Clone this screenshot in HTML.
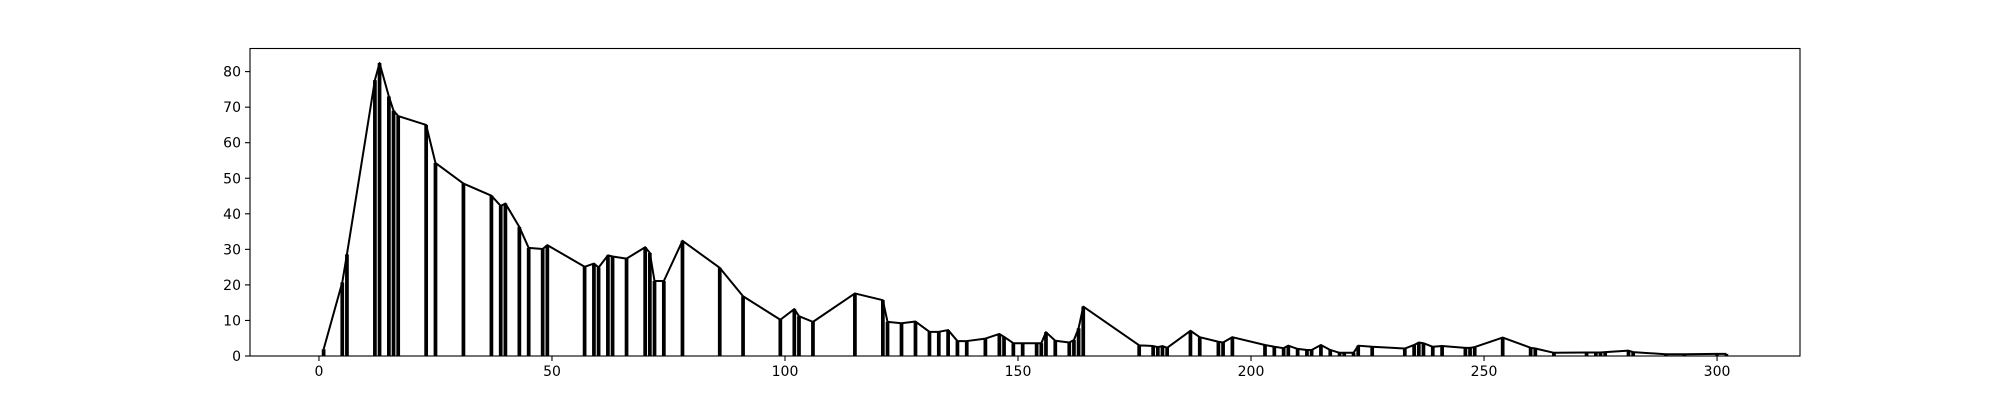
<!DOCTYPE html>
<html><head><meta charset="utf-8"><style>
html,body{margin:0;padding:0;background:#fff;}
svg{display:block;font-family:"DejaVu Sans","Liberation Sans",sans-serif;}
</style></head><body>
<svg id="chart" width="2000" height="400" viewBox="0 0 2000 400" xmlns="http://www.w3.org/2000/svg">
<rect width="2000" height="400" fill="#fff"/>
<g id="bars"></g>
<g id="line"></g>
<g id="xaxis"></g>
<g id="yaxis"></g>
<rect x="250" y="48.5" width="1550" height="307.5" fill="none" stroke="#000" stroke-width="1.1"/>
</svg>
<script>
const xVals = [1,5,6,12,13,15,16,17,23,25,31,37,39,40,43,45,48,49,57,59,60,62,63,66,70,71,72,74,78,86,91,99,102,103,106,115,121,122,125,128,131,133,135,137,139,143,146,147,149,151,154,155,156,158,161,162,163,164,176,179,180,181,182,187,189,193,194,196,203,205,207,208,210,212,213,215,217,219,220,222,223,226,233,235,236,237,239,241,246,247,248,254,260,261,265,272,274,275,276,281,282,289,293,300,302];
const yVals = [1.9,20.7,28.6,77.6,82.4,73,69,67.5,65,54.3,48.5,45.1,42.2,42.9,36.3,30.4,30.1,31.2,25.1,26,24.9,28.3,28,27.4,30.6,29,21.1,21.1,32.4,24.8,16.8,10.2,13.2,11.2,9.6,17.6,15.7,9.6,9.2,9.7,6.8,6.8,7.3,4.2,4.2,4.9,6.2,5.4,3.6,3.6,3.6,3.6,6.7,4.3,3.8,4.5,7.8,13.9,3,2.8,2.5,2.8,2.3,7.1,5.3,4,3.8,5.3,3.1,2.6,2.2,2.9,2,1.7,1.7,3.1,1.7,0.9,0.9,0.9,2.9,2.6,2.1,3.1,3.8,3.6,2.6,2.8,2.3,2.3,2.5,5.2,2.3,2.1,0.9,1,1,1,1.1,1.5,1.1,0.5,0.5,0.6,0.6];
const xTicks = [0,50,100,150,200,250,300];
const yTicks = [0,10,20,30,40,50,60,70,80];

const X0=250,X1=1800,Y0=356,Y1=48.5;
const xmin=-14.8,xmax=317.8,ymin=0,ymax=86.5;
function sx(v){return X0+(v-xmin)/(xmax-xmin)*(X1-X0);}
function sy(v){return Y0-(v-ymin)/(ymax-ymin)*(Y0-Y1);}
const NS="http://www.w3.org/2000/svg";
function mk(tag,attrs,parent){const e=document.createElementNS(NS,tag);for(const k in attrs)e.setAttribute(k,attrs[k]);parent.appendChild(e);return e;}

const bars=document.getElementById('bars');
const bw=0.8;
xVals.forEach((x,i)=>{
  const y=yVals[i];
  const r=mk('rect',{x:sx(x-bw/2),y:sy(y),width:sx(x+bw/2)-sx(x-bw/2),height:sy(0)-sy(y),fill:'#000'},bars);
  
  
});
const lineG=document.getElementById('line');
const pts=xVals.map((x,i)=>sx(x).toFixed(2)+','+sy(yVals[i]).toFixed(2)).join(' ');
const pl=mk('polyline',{points:pts,fill:'none',stroke:'#000','stroke-width':2,'stroke-linejoin':'round'},lineG);



const xa=document.getElementById('xaxis');
xTicks.forEach(t=>{
  const px=sx(t);
  const l=mk('line',{x1:px,x2:px,y1:Y0,y2:Y0+5,stroke:'#000','stroke-width':1.1},xa);
  
  
  const tx=mk('text',{x:px,y:Y0+20,'font-size':14,'text-anchor':'middle',fill:'#000'},xa);
  tx.textContent=t;
  
  
});
const ya=document.getElementById('yaxis');
yTicks.forEach(t=>{
  const py=sy(t);
  const l=mk('line',{x1:X0-5,x2:X0,y1:py,y2:py,stroke:'#000','stroke-width':1.1},ya);
  
  
  const tx=mk('text',{x:X0-9,y:py+5,'font-size':14,'text-anchor':'end',fill:'#000'},ya);
  tx.textContent=t;
  
  
});
</script>
</body></html>
